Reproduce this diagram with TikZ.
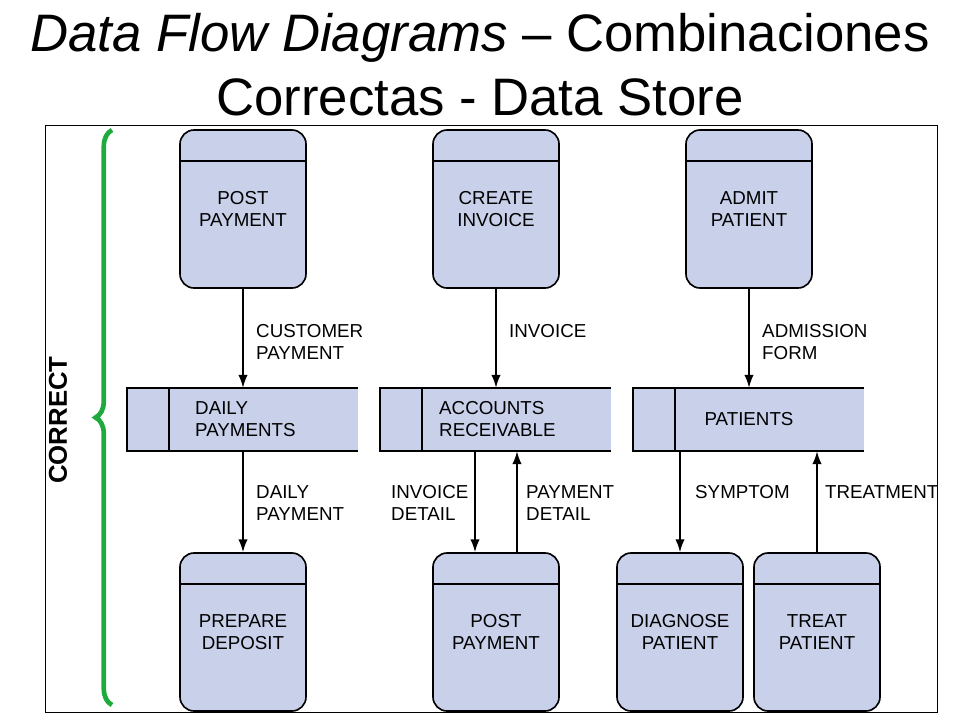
\documentclass[tikz,border=0pt]{standalone}
\usepackage{fontspec}
\setmainfont{Liberation Sans}
\usetikzlibrary{arrows.meta, positioning, calc, decorations.pathreplacing}
\definecolor{procblue}{RGB}{200,208,234}
\definecolor{bracegreen}{RGB}{30,170,60}
\newcommand{\header}[1]
{
	\draw[line width=1.4pt] ($ (#1.north west)+(0,32) $) -- ($ (#1.north east)+(0,32) $)
}
\begin{document}
\begin{tikzpicture}[x=0.03cm, y=-0.03cm,
	process/.style={rectangle, rounded corners=12pt, draw=black, line width=1.4pt,
		fill=procblue, minimum width=126*0.03cm, minimum height=158*0.03cm,
		align=center, font=\fontsize{16}{18.5}\selectfont},
	flow/.style={align=left, font=\fontsize{16}{18.5}\selectfont, inner sep=0pt},
	storeline/.style={line width=1.4pt},
	link/.style={line width=1.4pt, -{Latex[length=11pt, width=8pt]}}]
	\useasboundingbox (0,0) rectangle (960,720);

	% title
	\node at (480,38) (T1){\fontsize{45}{50}\selectfont \textit{Data Flow Diagrams} -- Combinaciones};
	\node at (480,97) (T2){\fontsize{45}{50}\selectfont Correctas - Data Store};
	\draw (45,125) rectangle (937,712);

	% processes
	\node[process] at (243,209) (PP){POST\\PAYMENT};
	\node[process] at (496,209) (CI){CREATE\\INVOICE};
	\node[process] at (749,209) (AP){ADMIT\\PATIENT};
	\node[process] at (243,632) (PD){PREPARE\\DEPOSIT};
	\node[process] at (496,632) (PQ){POST\\PAYMENT};
	\node[process] at (680,632) (DP){DIAGNOSE\\PATIENT};
	\node[process] at (817,632) (TP){TREAT\\PATIENT};
	\header{PP}; \header{CI}; \header{AP};
	\header{PD}; \header{PQ}; \header{DP}; \header{TP};

	% data stores
	\fill[procblue] (127,388) rectangle (358,451);
	\draw[storeline] (358,388) -- (127,388) -- (127,451) -- (358,451) (169,388) -- (169,451);
	\node[minimum width=6.93cm, minimum height=1.89cm] at (242.5,419.5) (DS){};
	\node[flow, anchor=west] at (195,419) (DSt){DAILY\\PAYMENTS};
	\fill[procblue] (380,388) rectangle (611,451);
	\draw[storeline] (611,388) -- (380,388) -- (380,451) -- (611,451) (422,388) -- (422,451);
	\node[minimum width=6.93cm, minimum height=1.89cm] at (495.5,419.5) (AR){};
	\node[flow, anchor=west] at (439,419) (ARt){ACCOUNTS\\RECEIVABLE};
	\fill[procblue] (633,388) rectangle (864,451);
	\draw[storeline] (864,388) -- (633,388) -- (633,451) -- (864,451) (675,388) -- (675,451);
	\node[minimum width=6.93cm, minimum height=1.89cm] at (748.5,419.5) (PS){};
	\node[flow] at (749,419) (PSt){PATIENTS};

	% flows
	\draw[link] (PP) -- (PP |- DS.north);
	\draw[link] (PP |- DS.south) -- (PD);
	\draw[link] (CI) -- (CI |- AR.north);
	\draw[link] ([xshift=-21*0.03cm]PQ.north |- AR.south) -- ([xshift=-21*0.03cm]PQ.north);
	\draw[link] ([xshift=21*0.03cm]PQ.north) -- ([xshift=21*0.03cm]PQ.north |- AR.south);
	\draw[link] (AP) -- (AP |- PS.north);
	\draw[link] (DP |- PS.south) -- (DP);
	\draw[link] (TP) -- (TP |- PS.south);

	% flow labels
	\node[flow, anchor=west] at (256,342) (L1){CUSTOMER\\PAYMENT};
	\node[flow, anchor=west] at (256,503) (L2){DAILY\\PAYMENT};
	\node[flow, anchor=west] at (509,331) (L3){INVOICE};
	\node[flow, anchor=west] at (391,503) (L4){INVOICE\\DETAIL};
	\node[flow, anchor=west] at (526,503) (L5){PAYMENT\\DETAIL};
	\node[flow, anchor=west] at (762,342) (L6){ADMISSION\\FORM};
	\node[flow, anchor=west] at (695,492) (L7){SYMPTOM};
	\node[flow, anchor=west] at (825,492) (L8){TREATMENT};

	% brace
	\coordinate (B1) at (112,705);
	\coordinate (B2) at (112,130);
	\draw[bracegreen, line width=4pt, decorate, decoration={brace, amplitude=14pt, aspect=0.5}] (B1) -- (B2);
	\node[rotate=90, font=\fontsize{22}{24}\selectfont\bfseries] at (58,420) (C){CORRECT};
\end{tikzpicture}
\end{document}
